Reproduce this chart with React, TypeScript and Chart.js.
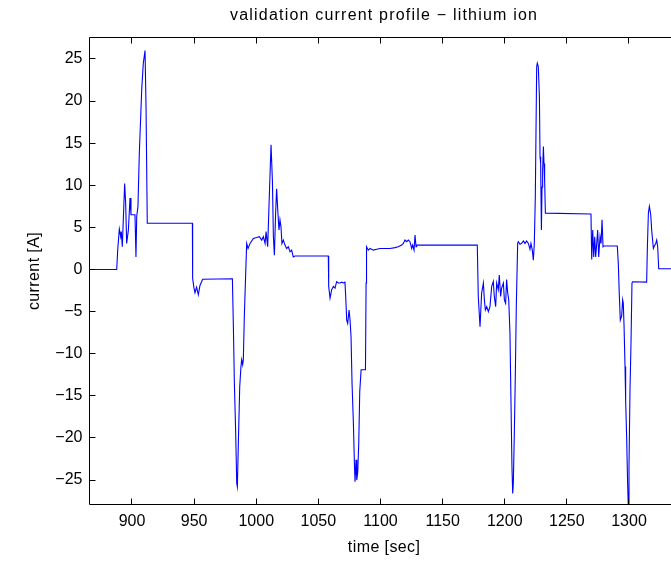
import React, { useEffect, useRef } from "react";
import { Chart, registerables } from "chart.js";

Chart.register(...registerables);

const titleText = "validation current profile \u2212 lithium ion";
const xLabel = "time [sec]";
const yLabel = "current [A]";

const xTicks = [900, 950, 1000, 1050, 1100, 1150, 1200, 1250, 1300];
const yTicks = [-25, -20, -15, -10, -5, 0, 5, 10, 15, 20, 25];

const timeSec = [
  865.8, 887.7, 888.5, 889.8, 890.9, 891.4, 892.2, 893.0, 894.1, 894.9, 895.7, 897.1, 898.4, 899.2, 902.4,
  903.2, 903.8, 904.8, 905.9, 907.0, 907.8, 909.1, 910.5, 911.3, 912.3, 948.6, 948.8, 949.9, 950.7, 952.0,
  953.4, 954.7, 956.9, 980.8, 981.6, 982.4, 983.4, 984.3, 984.8, 985.6, 986.7, 987.7, 988.3, 989.1, 989.6,
  990.4, 991.5, 992.3, 993.4, 995.0, 997.7, 1000.3, 1002.5, 1004.4, 1005.7, 1007.1, 1007.9, 1009.2, 1010.5,
  1011.9, 1013.0, 1013.8, 1014.6, 1015.6, 1016.4, 1017.3, 1018.3, 1019.1, 1019.9, 1020.7, 1021.8, 1023.1,
  1024.5, 1025.8, 1027.2, 1028.5, 1029.8, 1031.2, 1058.0, 1058.3, 1059.4, 1060.7, 1062.1, 1063.4, 1064.7,
  1066.1, 1067.4, 1068.8, 1070.1, 1071.4, 1072.0, 1072.8, 1073.6, 1074.7, 1075.5, 1076.3, 1077.1, 1078.2,
  1079.0, 1079.5, 1080.3, 1080.9, 1081.7, 1082.5, 1083.3, 1084.4, 1087.9, 1088.4, 1088.6, 1088.9, 1090.2,
  1091.6, 1094.2, 1096.9, 1099.6, 1102.3, 1105.0, 1107.6, 1111.7, 1114.3, 1117.0, 1118.4, 1119.7, 1121.0,
  1122.4, 1123.7, 1125.1, 1125.9, 1127.0, 1127.8, 1128.6, 1129.1, 1177.9, 1178.7, 1180.1, 1181.4, 1182.8,
  1183.6, 1184.4, 1185.5, 1186.8, 1188.1, 1189.5, 1190.8, 1191.6, 1192.7, 1193.5, 1194.8, 1195.6, 1196.7,
  1197.5, 1198.9, 1199.7, 1200.7, 1201.5, 1202.4, 1203.2, 1204.2, 1205.0, 1205.8, 1206.4, 1206.9, 1207.7,
  1208.5, 1209.3, 1210.4, 1210.9, 1212.3, 1213.6, 1215.0, 1216.3, 1217.6, 1219.0, 1220.3, 1221.1, 1222.2,
  1223.0, 1223.8, 1224.6, 1225.7, 1226.2, 1227.0, 1227.9, 1228.4, 1228.9, 1229.5, 1230.0, 1230.5, 1231.1,
  1231.6, 1232.1, 1232.7, 1269.4, 1270.0, 1270.8, 1271.6, 1272.4, 1273.2, 1274.0, 1274.8, 1275.6, 1276.7,
  1277.5, 1278.3, 1279.1, 1279.9, 1290.6, 1291.4, 1292.2, 1293.0, 1294.1, 1294.9, 1295.4, 1296.0, 1296.8,
  1297.3, 1298.1, 1298.9, 1299.5, 1300.0, 1300.8, 1301.6, 1302.4, 1303.0, 1314.2, 1314.8, 1315.6, 1316.4,
  1317.5, 1318.3, 1319.6, 1320.4, 1321.5, 1322.3, 1323.1, 1323.9, 1340.0,
];

const currentA = [
  0, 0, 2.3, 4.8, 3.9, 4.5, 2.7, 5.9, 10.2, 7.9, 3.1, 4.7, 8.5, 6.5, 6.5,
  1.5, 6.3, 7.5, 13.8, 18.1, 21.3, 24.5, 26.0, 19.3, 5.5, 5.5, -1.05, -2.2, -2.75, -2.1,
  -3.0, -1.9, -1.15, -1.1, -6.8, -13.5, -19.1, -25.4, -25.8, -20.6, -13.9, -11.5, -10.7, -11.3, -10.7,
  -5.6, -0.5, 3.1, 2.5, 3.1, 3.7, 3.8, 3.9, 3.5, 3.9, 3.1, 4.5, 2.7, 8.6,
  14.8, 10.6, 3.9, 1.7, 6.7, 9.6, 7.1, 4.7, 5.9, 5.1, 3.1, 3.5, 2.9,
  2.5, 2.7, 2.1, 2.3, 1.5, 1.6, 1.6, -2.0, -3.4, -2.4, -2.0, -2.2, -1.45,
  -1.6, -1.6, -1.5, -1.6, -1.5, -3.2, -6.0, -6.4, -4.8, -6.0, -8.0, -13.5, -18.3,
  -23.0, -25.2, -22.6, -25.0, -24.0, -20.6, -14.5, -11.9, -11.9, -1.6, 1.9, 2.7, 2.3,
  2.5, 2.3, 2.4, 2.5, 2.5, 2.5, 2.5, 2.6, 2.7, 2.9, 3.1, 3.5, 3.3,
  3.5, 3.3, 2.5, 2.9, 2.3, 4.1, 2.7, 2.9, 2.9, -3.2, -6.8, -2.8, -1.6,
  -3.6, -4.8, -4.4, -5.0, -4.4, -2.0, -1.4, -3.2, -4.4, -1.6, -2.4, -0.65, -3.2,
  -2.2, -1.6, -3.6, -4.0, -1.2, -2.8, -3.6, -7.6, -15.5, -23.4, -26.6, -25.4, -19.5,
  -12.7, -4.4, 3.1, 3.3, 3.0, 3.1, 3.4, 3.1, 3.4, 3.1, 2.4, 3.1, 2.3,
  1.1, 3.1, 8.6, 24.1, 24.5, 24.1, 20.5, 13.4, 12.6, 4.7, 9.8, 11.8, 14.6,
  12.6, 10.6, 6.7, 6.6, 1.2, 4.7, 1.5, 3.9, 1.5, 3.1, 4.7, 1.5, 3.9,
  3.1, 5.9, 2.7, 2.8, 2.8, 0.7, -3.0, -6.0, -5.5, -3.6, -4.0, -6.6, -11.5,
  -15.5, -19.9, -25.4, -28.5, -23.4, -14.3, -8.8, -1.6, -1.45, -1.5, 2.7, 6.7, 7.5,
  6.5, 4.6, 2.5, 2.8, 3.1, 3.5, 2.7, 0.1, 0.1,
];

const FONT = "'Liberation Sans', Arial, Helvetica, sans-serif";
const CANVAS_W = 720;
const CANVAS_H = 553;

const framePlugin = {
  id: "matlabFrame",
  afterDraw(chart: any) {
    const { ctx, chartArea: a, scales } = chart;
    const xs = scales.x;
    const ys = scales.y;
    ctx.save();
    ctx.strokeStyle = "#000";
    ctx.lineWidth = 1;
    ctx.beginPath();
    ctx.moveTo(a.left, a.bottom);
    ctx.lineTo(a.left, a.top);
    ctx.lineTo(a.right, a.top);
    ctx.lineTo(a.right, a.bottom);
    ctx.lineTo(a.left, a.bottom);
    const tl = 6;
    xs.ticks.forEach((t: any) => {
      const px = Math.floor(xs.getPixelForValue(t.value)) + 0.5;
      ctx.moveTo(px, a.bottom);
      ctx.lineTo(px, a.bottom - tl);
      ctx.moveTo(px, a.top);
      ctx.lineTo(px, a.top + tl);
    });
    ys.ticks.forEach((t: any) => {
      const py = Math.floor(ys.getPixelForValue(t.value)) + 0.5;
      ctx.moveTo(a.left, py);
      ctx.lineTo(a.left + tl, py);
      ctx.moveTo(a.right, py);
      ctx.lineTo(a.right - tl, py);
    });
    ctx.stroke();

    ctx.fillStyle = "#000";
    ctx.textAlign = "center";
    ctx.textBaseline = "middle";
    const midX = (a.left + a.right) / 2;
    ctx.font = `16px ${FONT}`;
    (ctx as any).letterSpacing = "1.2px";
    ctx.fillText(titleText, midX, 8);
    (ctx as any).letterSpacing = "0.4px";
    ctx.fillText(xLabel, midX, 540);
    ctx.translate(27, (a.top + a.bottom) / 2);
    ctx.rotate(-Math.PI / 2);
    ctx.fillText(yLabel, 0, 0);
    (ctx as any).letterSpacing = "0px";
    ctx.restore();
  },
};

export default function App() {
  const ref = useRef<HTMLCanvasElement | null>(null);
  useEffect(() => {
    const prevMargin = document.body.style.margin;
    document.body.style.margin = "0";
    const canvas = ref.current;
    if (!canvas) return;
    const points = timeSec.map((t, i) => ({ x: t, y: currentA[i] }));
    const chart = new Chart(canvas, {
      type: "line",
      data: {
        datasets: [
          {
            data: points,
            borderColor: "#0000ff",
            borderWidth: 1.1,
            pointRadius: 0,
            tension: 0,
            fill: false,
          },
        ],
      },
      options: {
        animation: false,
        responsive: false,
        devicePixelRatio: 1,
        layout: { padding: { left: 0, top: 29.5, right: CANVAS_W - 670.7, bottom: 0 } },
        plugins: { legend: { display: false }, title: { display: false }, tooltip: { enabled: false } },
        scales: {
          x: {
            type: "linear",
            min: 865.8,
            max: 1340,
            grid: { display: false, drawTicks: false },
            border: { display: false },
            afterBuildTicks: (s: any) => {
              s.ticks = xTicks.map((v) => ({ value: v }));
            },
            afterFit: (s: any) => {
              s.height = CANVAS_H - 496.5;
            },
            ticks: {
              autoSkip: false,
              maxRotation: 0,
              padding: 7,
              color: "#000",
              font: { family: FONT, size: 16 },
              callback: (v: any) => String(v),
            },
          },
          y: {
            type: "linear",
            min: -27.9,
            max: 27.55,
            grid: { display: false, drawTicks: false },
            border: { display: false },
            afterBuildTicks: (s: any) => {
              s.ticks = yTicks.map((v) => ({ value: v }));
            },
            afterFit: (s: any) => {
              s.width = 81.5;
            },
            ticks: {
              autoSkip: false,
              padding: 7,
              color: "#000",
              font: { family: FONT, size: 16 },
              callback: (v: any) => (v < 0 ? "\u2212" + String(-v) : String(v)),
            },
          },
        },
      },
      plugins: [framePlugin],
    });
    return () => {
      chart.destroy();
      document.body.style.margin = prevMargin;
    };
  }, []);
  return (
    <div
      style={{
        width: 671,
        height: 561,
        paddingLeft: 8,
        paddingTop: 8,
        boxSizing: "border-box",
        overflow: "hidden",
        position: "relative",
        background: "#fff",
      }}
    >
      <canvas ref={ref} width={CANVAS_W} height={CANVAS_H} style={{ display: "block", width: CANVAS_W, height: CANVAS_H }} />
    </div>
  );
}
